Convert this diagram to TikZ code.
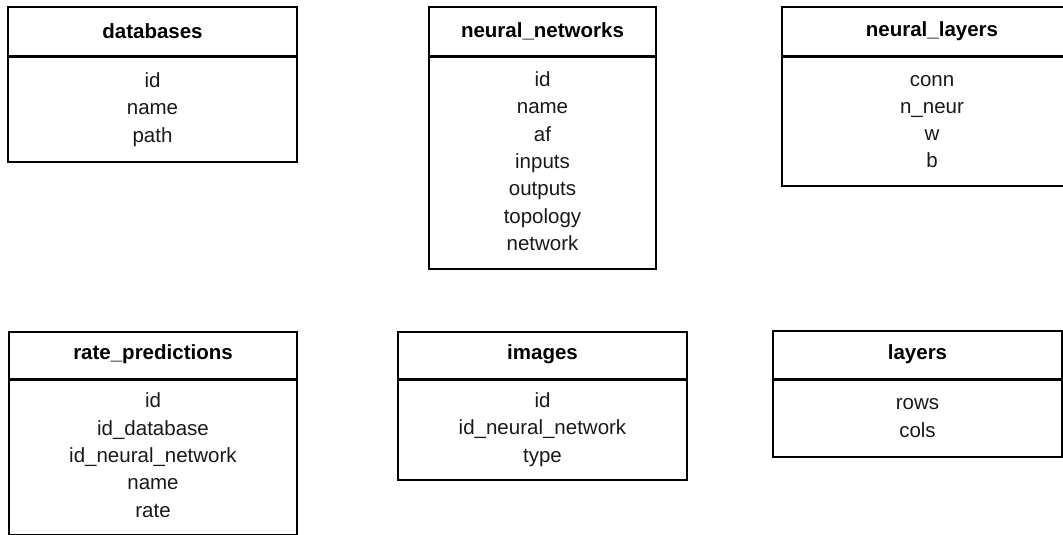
\documentclass[tikz,border=0pt]{standalone}
\usepackage{fontspec}
\setmainfont{Liberation Sans}
\usetikzlibrary{positioning}

\tikzset{
  tblframe/.style={draw=black, line width=2pt, inner sep=0pt, outer sep=0pt,
                   anchor=north west},
  tblhead/.style={tblframe},
  tblbody/.style={tblframe},
  tbltitle/.style={inner sep=0pt, font=\fontsize{20.5}{27.3}\selectfont\bfseries},
  tblfields/.style={align=center, inner sep=0pt,
                    font=\fontsize{20.5}{27.3}\selectfont, text=black!90},
  tbldivider/.style={draw=black, line width=3pt},
}

% one entity table: #1 name, #2 x, #3 y top, #4 width, #5 header height,
% #6 body height, #7 title, #8 fields
\newcommand{\erentity}[8]{%
  \node[tblhead, minimum width=#4pt, minimum height=#5pt] (#1-h) at (#2,#3) {};
  \node[tblbody, minimum width=#4pt, minimum height=#6pt] (#1-b) at (#1-h.south west) {};
  \draw[tbldivider] (#1-h.south west) -- (#1-h.south east);
  \node[tbltitle, yshift=1pt] (#1-t) at (#1-h.center) {#7};
  \node[tblfields, yshift=0pt] (#1-f) at (#1-b.center) {#8};
}

\begin{document}
\begin{tikzpicture}[x=1pt, y=-1pt]
  \useasboundingbox (0,0) rectangle (1063,535);
  \clip (0,0) rectangle (1063,535);

  \erentity{db}{8}{7}{289}{50}{105}{databases}
    {\strut id\\name\\path\strut}
  \erentity{nn}{429}{7}{227}{50}{212}{neural\_networks}
    {\strut id\\name\\af\\inputs\\outputs\\topology\\network\strut}
  \erentity{nl}{782}{7}{300}{50}{129}{neural\_layers}
    {\strut conn\\n\_neur\\w\\b\strut}

  \erentity{rp}{9}{332}{288}{47}{156}{rate\_predictions}
    {\strut id\\id\_database\\id\_neural\_network\\name\\rate\strut}
  \erentity{im}{398}{332}{289}{47}{101}{images}
    {\strut id\\id\_neural\_network\\type\strut}
  \erentity{ly}{773}{331}{289}{48}{78}{layers}
    {\strut rows\\cols\strut}
\end{tikzpicture}
\end{document}
